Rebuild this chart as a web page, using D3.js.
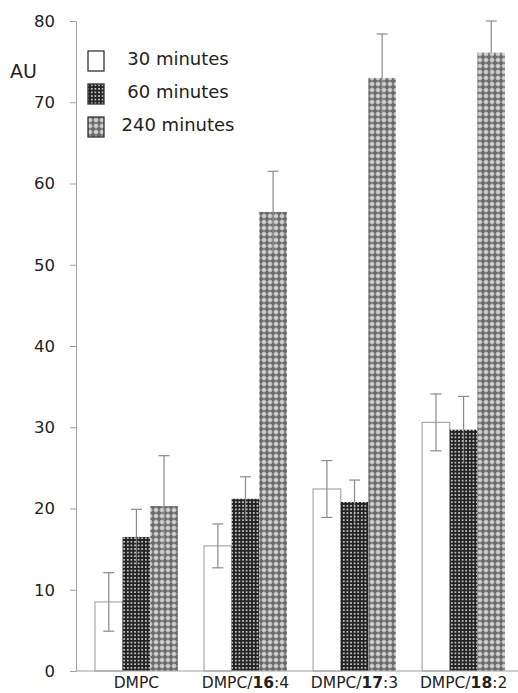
<!DOCTYPE html>
<html>
<head>
<meta charset="utf-8">
<script src="https://cdn.jsdelivr.net/npm/d3@7"></script>
<style>
  html, body { margin: 0; padding: 0; background: #fff; }
  svg { display: block; font-family: "DejaVu Sans", Verdana, sans-serif; }
</style>
</head>
<body>
<div id="chart"></div>
<script>
// data
var categories = ['DMPC', 'DMPC/16:4', 'DMPC/17:3', 'DMPC/18:2'];
var seriesNames = ['30 minutes', '60 minutes', '240 minutes'];
var values30  = [8.5, 15.4, 22.4, 30.6];
var values60  = [16.5, 21.2, 20.8, 29.7];
var values240 = [20.3, 56.5, 73.0, 76.1];
var err30  = [3.6, 2.7, 3.5, 3.5];
var err60  = [3.4, 2.7, 2.7, 4.1];
var err240 = [6.2, 5.0, 5.4, 3.9];
var yTicks = [0, 10, 20, 30, 40, 50, 60, 70, 80];

var width = 518, height = 693;
var config = {};
config.left   = 76;
config.top    = 21;
config.bottom = 671;

var svg = d3.select('#chart')
    .append('svg')
    .attr('width', width)
    .attr('height', height);

// fill patterns
var defs = svg.append('defs');
var p60 = defs.append('pattern')
    .attr('id', 'p60').attr('patternUnits', 'userSpaceOnUse')
    .attr('width', 3.6).attr('height', 3.6);
p60.append('rect').attr('width', 3.6).attr('height', 3.6).attr('fill', '#222');
p60.append('rect').attr('x', 0.9).attr('y', 0.9).attr('width', 1.8).attr('height', 1.8).attr('fill', '#bdbdbd');

var p240 = defs.append('pattern')
    .attr('id', 'p240').attr('patternUnits', 'userSpaceOnUse')
    .attr('width', 6).attr('height', 6);
p240.append('rect').attr('width', 6).attr('height', 6).attr('fill', '#d2d2d2');
// grey plus shapes
p240.append('rect').attr('x', 1.8).attr('y', 0.3).attr('width', 2.4).attr('height', 5.4).attr('fill', '#6a6a6a');
p240.append('rect').attr('x', 0.3).attr('y', 1.8).attr('width', 5.4).attr('height', 2.4).attr('fill', '#6a6a6a');

var fills = ['#ffffff', 'url(#p60)', 'url(#p240)'];
var allValues = [values30, values60, values240];
var allErrs = [err30, err60, err240];

var y = d3.scaleLinear().domain([0, 80]).range([config.bottom, config.top]);
var x0 = d3.scaleBand().domain(categories).range([config.left, 524])
    .paddingInner(0.24).paddingOuter(0.174);
var x1 = d3.scaleBand().domain(seriesNames).range([0, x0.bandwidth()]);

// flat rows for bars
var rows = [];
categories.forEach(function(c, i){
    seriesNames.forEach(function(s, j){
        rows.push({cat: c, series: s, j: j, value: allValues[j][i], err: allErrs[j][i]});
    });
});

// bars
svg.append('g')
    .selectAll('rect')
    .data(rows)
    .enter()
        .append('rect')
        .attr('x', function(d){ return x0(d.cat) + x1(d.series); })
        .attr('y', function(d){ return y(d.value); })
        .attr('width', x1.bandwidth())
        .attr('height', function(d){ return y(0) - y(d.value); })
        .attr('fill', function(d){ return fills[d.j]; })
        .attr('stroke', function(d){ return d.j == 0 ? '#a8a8a8' : 'none'; })
        .attr('stroke-width', 1.2);

// error bars (lower half mostly hidden behind patterned bars)
var eb = svg.append('g').attr('stroke', '#8a8a8a').attr('stroke-width', 1.2).attr('fill', 'none');
rows.forEach(function(d){
    var cx = x0(d.cat) + x1(d.series) + x1.bandwidth() / 2;
    var hi = y(d.value + d.err), lo = y(d.value - d.err);
    if (d.j == 0) {
        eb.append('line').attr('x1', cx).attr('x2', cx).attr('y1', hi).attr('y2', lo);
        eb.append('line').attr('x1', cx - 5.5).attr('x2', cx + 5.5).attr('y1', lo).attr('y2', lo);
    } else {
        eb.append('line').attr('x1', cx).attr('x2', cx).attr('y1', hi).attr('y2', y(d.value));
        eb.append('line').attr('x1', cx).attr('x2', cx).attr('y1', y(d.value)).attr('y2', lo)
            .attr('stroke', '#bdbdbd').attr('stroke-opacity', 0.5);
    }
    eb.append('line').attr('x1', cx - 5.5).attr('x2', cx + 5.5).attr('y1', hi).attr('y2', hi);
});

// y axis
var yAxis = svg.append('g')
    .attr('transform', 'translate(' + config.left + ',0)')
    .call(d3.axisLeft(y).tickValues(yTicks).tickSize(6).tickPadding(15).tickFormat(d3.format('d')));
yAxis.select('.domain').attr('stroke', '#a0a0a0');
yAxis.selectAll('.tick line').attr('stroke', '#a0a0a0');
yAxis.selectAll('.tick text')
    .style('font-size', '16.5px')
    .style('font-family', '"DejaVu Sans", Verdana, sans-serif')
    .attr('fill', '#222');

// x baseline
svg.append('line')
    .attr('x1', config.left).attr('x2', width)
    .attr('y1', y(0)).attr('y2', y(0))
    .attr('stroke', '#a0a0a0');

// category labels, carbon numbers in bold
var labels = svg.append('g')
    .selectAll('text')
    .data(categories)
    .enter()
        .append('text')
        .attr('x', function(d){ return x0(d) + x0.bandwidth() / 2; })
        .attr('y', 688)
        .attr('text-anchor', 'middle')
        .attr('fill', '#222')
        .style('font-size', '15.5px');
labels.each(function(d){
    var t = d3.select(this);
    var parts = d.split('/');
    if (parts.length == 1) { t.text(d); return; }
    var tail = parts[1].split(':');
    t.append('tspan').text(parts[0] + '/');
    t.append('tspan').attr('font-weight', 'bold').text(tail[0]);
    t.append('tspan').text(':' + tail[1]);
});

// AU label
svg.append('text')
    .attr('x', 10).attr('y', 78)
    .attr('fill', '#222')
    .style('font-size', '19px')
    .text('AU');

// legend
var legend = svg.append('g')
    .selectAll('g')
    .data(seriesNames)
    .enter()
        .append('g')
        .attr('transform', function(d, i){ return 'translate(0,' + (i * 33) + ')'; });
legend.append('rect')
    .attr('x', 88).attr('y', 51)
    .attr('width', 16).attr('height', 20)
    .attr('fill', function(d, i){ return fills[i]; })
    .attr('stroke', '#333').attr('stroke-width', 1.3);
legend.append('text')
    .attr('x', 178).attr('y', 65)
    .attr('text-anchor', 'middle')
    .attr('fill', '#222')
    .style('font-size', '18px')
    .text(function(d){ return d; });
</script>
</body>
</html>
